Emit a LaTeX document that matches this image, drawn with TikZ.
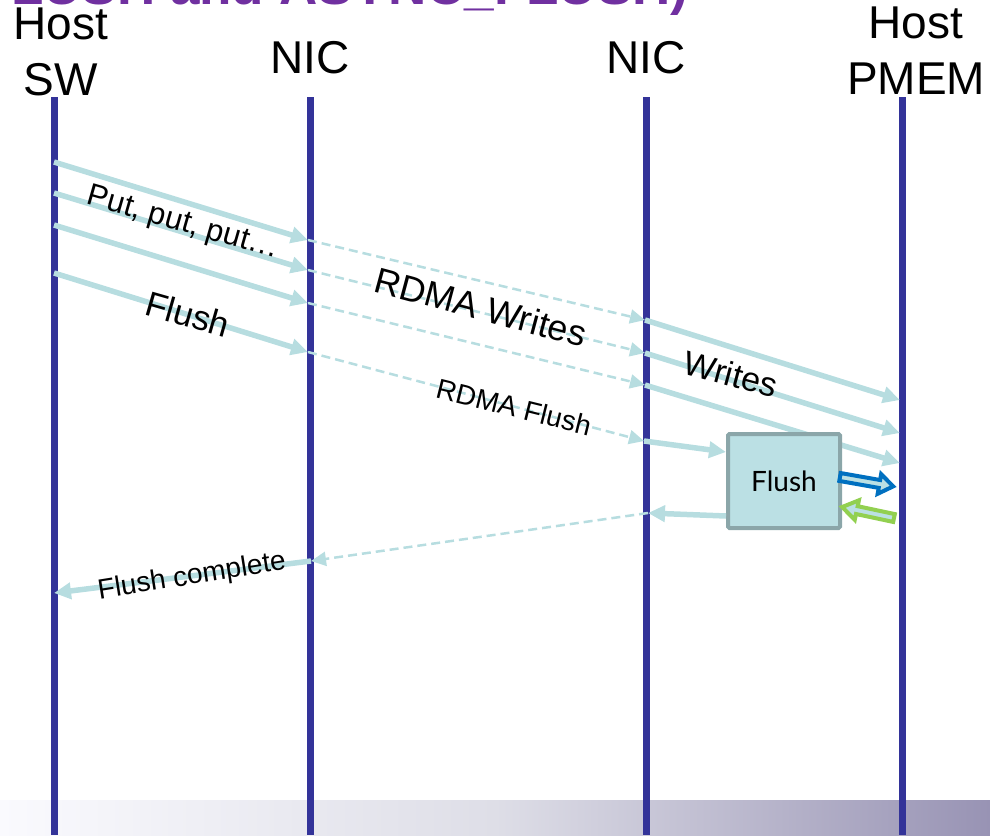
\documentclass[tikz,border=0pt]{standalone}
\usepackage{fontspec}
\setmainfont{Liberation Sans}
\newfontfamily\boxfont{Lato}
\usetikzlibrary{arrows.meta}
\newcommand{\px}[1]{\fontsize{#1}{#1}\selectfont}
\definecolor{lifeblue}{RGB}{51,51,153}
\definecolor{msgcyan}{RGB}{183,221,224}
\definecolor{boxfill}{RGB}{187,224,228}
\definecolor{boxedge}{RGB}{139,166,169}
\definecolor{titlepurple}{RGB}{112,48,160}
\definecolor{outblue}{RGB}{0,112,192}
\definecolor{outgreen}{RGB}{146,208,80}
\definecolor{bandl}{RGB}{250,250,254}
\definecolor{bandm}{RGB}{222,222,231}
\definecolor{bandr}{RGB}{152,147,180}

\begin{document}
\begin{tikzpicture}[x=1pt, y=-1pt,
    life/.style={line width=7pt, lifeblue},
    msg/.style={line width=5.5pt, msgcyan, -{Triangle[length=17pt,width=16pt]}},
    rdma/.style={line width=2.5pt, msgcyan, dash pattern=on 9pt off 5pt, -{Triangle[length=15pt,width=14pt]}},
    head/.style={font=\fontsize{46}{56}\selectfont, inner sep=0pt, align=center},
    lbl/.style={inner sep=0pt},
    hollow/.style={line width=4pt, fill=boxfill, line join=miter}
  ]
  \clip (0,0) rectangle (990,835);
  \shade[left color=bandl, right color=bandr, middle color=bandm] (0,800) rectangle (990,835);
  \node[anchor=base west, inner sep=0pt, font=\px{53}\bfseries, text=titlepurple] (title) at (11,5) {LUSH and ASYNC\_FLUSH)};

  % column heads
  \node[head, anchor=north] (hsw) at (61,8) {Host\\SW};
  \node[head, anchor=base] (hnica) at (310,73) {NIC};
  \node[head, anchor=base] (hnicb) at (646,73) {NIC};
  \node[head, anchor=north] (hpmem) at (916,7) {Host\\PMEM};

  \foreach \n/\x in {sw/54, nica/310, nicb/646, pmem/902} {
    \coordinate (\n top) at (\x,97);
    \coordinate (\n bot) at (\x,835);
    \draw[life] (\n top) -- (\n bot);
  }

  % puts -> rdma writes -> writes
  \foreach \i/\ya/\yb/\yc/\yd in {1/162/240/320/400, 2/193/270/353/433, 3/225/303/385/463} {
    \coordinate (s\i) at (54,\ya);
    \coordinate (a\i) at (308,\yb);
    \coordinate (b\i) at (645,\yc);
    \coordinate (p\i) at (900,\yd);
    \draw[msg] (s\i) -- (a\i);
    \draw[rdma] (a\i) -- (b\i);
    \draw[msg] (b\i) -- (p\i);
  }

  % flush
  \coordinate (s4) at (54,273);
  \coordinate (a4) at (308,352);
  \coordinate (b4) at (644,441);
  \node[draw=boxedge, fill=boxfill, line width=4pt, rounded corners=1.5pt,
        minimum width=112pt, minimum height=94pt, font=\boxfont\px{28}] (fbox) at (784,481) {Flush};
  \draw[msg] (s4) -- (a4);
  \draw[rdma] (a4) -- (b4);
  \draw[msg] (b4) -- ([yshift=29pt]fbox.west);

  % completion
  \coordinate (b5) at (648,513);
  \coordinate (a5) at (311,561);
  \coordinate (s5) at (54,593);
  \draw[msg] ([yshift=-35pt]fbox.west) -- (b5);
  \draw[rdma] (b5) -- (a5);
  \draw[msg] (a5) -- (s5);

  \draw[hollow, draw=outblue] [shift={(840,477)}, rotate=-10]
    (0,-4) -- (40,-4) -- (40,-10) -- (54,0) -- (40,10) -- (40,4) -- (0,4) -- cycle;
  \draw[hollow, draw=outgreen] [shift={(894,518)}, rotate=-12]
    (0,-4) -- (-38,-4) -- (-38,-10) -- (-53,0) -- (-38,10) -- (-38,4) -- (0,4) -- cycle;

  \node[lbl, font=\px{31}, rotate=-16] (lput) at (183,224) {Put, put, put…};
  \node[lbl, font=\px{35}, rotate=-16] (lflush) at (188,314) {Flush};
  \node[lbl, font=\px{36}, rotate=-15] (lrdmaw) at (481,307) {RDMA Writes};
  \node[lbl, font=\px{28}, rotate=-14] (lrdmaf) at (514,407) {RDMA Flush};
  \node[lbl, font=\px{34}, rotate=-15] (lwrites) at (731,374) {Writes};
  \node[lbl, font=\px{28}, rotate=9] (ldone) at (192,577) {Flush complete};
\end{tikzpicture}
\end{document}
